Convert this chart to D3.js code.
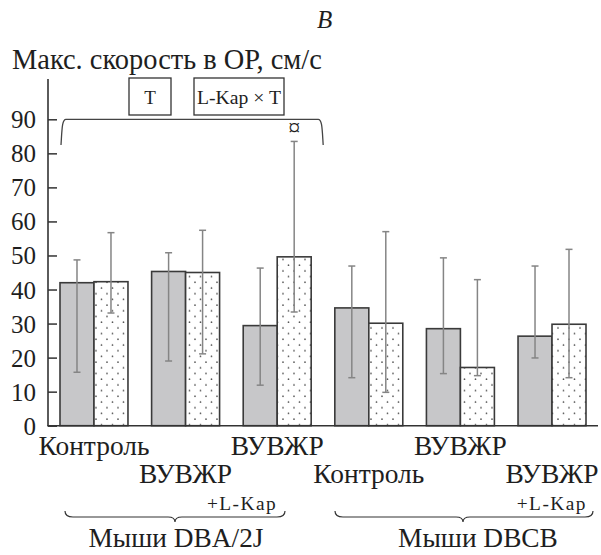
<!DOCTYPE html>
<html>
<head>
<meta charset="utf-8">
<script src="https://cdn.jsdelivr.net/npm/d3@7"></script>
<style>
  html, body { margin: 0; padding: 0; background: #fff; }
  svg { display: block; }
  text { font-family: "Liberation Serif", "Times New Roman", serif; fill: #1e1e1e; }
</style>
</head>
<body>
<svg id="chart" width="601" height="555"></svg>
<script>
// ---- data ----
const groups = ["Контроль", "ВУВЖР", "ВУВЖР", "Контроль", "ВУВЖР", "ВУВЖР"];
const groupSub = ["", "", "+L-Kap", "", "", "+L-Kap"];
const strains = ["Мыши DBA/2J", "Мыши DBCB"];
const series = ["gray", "dotted"];
const grayMean = [42.0, 45.3, 29.4, 34.6, 28.5, 26.3];
const grayLow  = [15.7, 19.0, 11.9, 14.1, 15.3, 19.9];
const grayHigh = [48.7, 50.8, 46.3, 46.9, 49.3, 46.9];
const dotMean  = [42.3, 45.0, 49.6, 30.1, 17.1, 29.8];
const dotLow   = [33.1, 21.1, 33.4,  9.8, 14.7, 14.1];
const dotHigh  = [56.7, 57.4, 83.5, 57.0, 42.9, 51.8];
const yTicks = [0, 10, 20, 30, 40, 50, 60, 70, 80, 90];
const effects = ["T", "L-Kap × T"];
const markSymbol = "¤";
const panelLetter = "B";
const yTitle = "Макс. скорость в ОР, см/с";

// ---- helpers ----
function fitSize(sel, targetW) {
  const fs = +sel.attr("font-size");
  const w = sel.node().getComputedTextLength();
  const nfs = fs * targetW / w;
  sel.attr("font-size", nfs.toFixed(2));
  return nfs;
}

// ---- layout ----
const svg = d3.select("#chart");
const y = d3.scaleLinear().domain([0, 90]).range([425.7, 119.3]);
const x = d3.scaleBand().domain(d3.range(groups.length)).range([48, 598])
  .paddingInner(0.258).paddingOuter(0.131);
const xs = d3.scaleBand().domain(series).range([0, x.bandwidth()]);

const rows = [];
groups.forEach((g, i) => {
  rows.push({g: i, s: "gray", mean: grayMean[i], lo: grayLow[i], hi: grayHigh[i]});
  rows.push({g: i, s: "dotted", mean: dotMean[i], lo: dotLow[i], hi: dotHigh[i]});
});

// dot pattern
const defs = svg.append("defs");
const pat = defs.append("pattern").attr("id", "dots").attr("patternUnits", "userSpaceOnUse")
  .attr("width", 11).attr("height", 11.4).attr("x", 0).attr("y", 0);
pat.append("rect").attr("width", 11).attr("height", 11.4).attr("fill", "#fff");
pat.append("circle").attr("cx", 2.5).attr("cy", 3).attr("r", 0.85).attr("fill", "#555");
pat.append("circle").attr("cx", 8).attr("cy", 8.7).attr("r", 0.85).attr("fill", "#555");

// bars
svg.append("g").selectAll("rect").data(rows).join("rect")
  .attr("x", d => x(d.g) + xs(d.s))
  .attr("y", d => y(d.mean))
  .attr("width", xs.bandwidth())
  .attr("height", d => y(0) - y(d.mean))
  .attr("fill", d => d.s === "gray" ? "#c7c7c9" : "url(#dots)")
  .attr("stroke", "#3a3a3a").attr("stroke-width", 1.6);

// error bars
const eb = svg.append("g").attr("stroke", "#858585").attr("stroke-width", 1.5).attr("fill", "none");
rows.forEach(d => {
  const cx = x(d.g) + xs(d.s) + xs.bandwidth() / 2;
  eb.append("line").attr("x1", cx).attr("x2", cx).attr("y1", y(d.hi)).attr("y2", y(d.lo));
  eb.append("line").attr("x1", cx - 3.5).attr("x2", cx + 3.5).attr("y1", y(d.hi)).attr("y2", y(d.hi));
  eb.append("line").attr("x1", cx - 3.5).attr("x2", cx + 3.5).attr("y1", y(d.lo)).attr("y2", y(d.lo));
});

// y axis
const yAxis = d3.axisLeft(y).tickValues(yTicks).tickSizeInner(-9).tickSizeOuter(0).tickPadding(21);
const ya = svg.append("g").attr("transform", "translate(48,0)").call(yAxis);
ya.attr("font-family", null);
ya.select(".domain").remove();
ya.selectAll(".tick line").attr("stroke", "#333").attr("stroke-width", 1.5);
ya.selectAll(".tick text").attr("font-size", 25).attr("fill", "#1e1e1e").attr("dx", 9).attr("dy", "0.34em");
svg.append("line").attr("x1", 48).attr("x2", 48).attr("y1", 79).attr("y2", y(0))
  .attr("stroke", "#333").attr("stroke-width", 1.6);
svg.append("line").attr("x1", 47.2).attr("x2", 598).attr("y1", y(0)).attr("y2", y(0))
  .attr("stroke", "#333").attr("stroke-width", 1.6);

// titles
svg.append("text").attr("x", 317).attr("y", 28).attr("font-size", 25).attr("font-style", "italic").text(panelLetter);
const yt = svg.append("text").attr("x", 12).attr("y", 69).attr("font-size", 25).text(yTitle);
fitSize(yt, 310);

// significance bracket over DBA/2J
const bx0 = x(0) + 2, bx1 = x(2) + x.bandwidth() + 11, by = y(90), byEnd = 145;
svg.append("path")
  .attr("d", `M${bx0 - 1},${byEnd} C${bx0},${by + 10} ${bx0},${by} ${bx0 + 4},${by} L${bx1 - 4},${by} C${bx1},${by} ${bx1},${by + 10} ${bx1 + 1},${byEnd}`)
  .attr("fill", "none").attr("stroke", "#444").attr("stroke-width", 1.3);

// effect boxes
const boxes = [{x0: 129, x1: 171}, {x0: 194, x1: 284}];
effects.forEach((t, i) => {
  const b = boxes[i];
  svg.append("rect").attr("x", b.x0).attr("y", 78).attr("width", b.x1 - b.x0).attr("height", 37)
    .attr("fill", "#fff").attr("stroke", "#333").attr("stroke-width", 1.3);
  const tt = svg.append("text").attr("x", (b.x0 + b.x1) / 2).attr("y", 104).attr("text-anchor", "middle")
    .attr("font-size", 19).text(t);
  if (i === 1) fitSize(tt, 84);
});

// mark symbol above G3 dotted error bar
svg.append("text").attr("x", x(2) + xs("dotted") + xs.bandwidth() / 2).attr("y", 135)
  .attr("text-anchor", "middle").attr("font-size", 24).attr("fill", "#555").text(markSymbol);

// category labels
const rowY = [455, 483];
const catLabels = [];
groups.forEach((g, i) => {
  const cx = x(i) + x.bandwidth() / 2;
  catLabels.push(svg.append("text").attr("x", cx).attr("y", rowY[i % 2]).attr("text-anchor", "middle")
    .attr("font-size", 24).text(g));
});
const catSize = fitSize(catLabels[0], 111);
catLabels.forEach(t => t.attr("font-size", catSize.toFixed(2)));

const subRight = [0, 0, x(2) + x.bandwidth() / 2, 0, 0, x(5) + x.bandwidth() + 1];
groupSub.forEach((s, i) => {
  if (!s) return;
  const t = svg.append("text").attr("x", subRight[i]).attr("y", 510).attr("text-anchor", "end")
    .attr("font-size", 18).attr("letter-spacing", 1.5).text(s);
  fitSize(t, 71);
});

// braces + strain labels
const braceSpans = [{x0: 65, x1: 285, tip: 175, lx: 176}, {x0: 335, x1: 593, tip: 463, lx: 478}];
const strainLabels = [];
strains.forEach((s, k) => {
  const b = braceSpans[k];
  const ytp = 511, ym = 517, yp = 522;
  svg.append("path")
    .attr("d", `M${b.x0},${ytp} Q${b.x0},${ym} ${b.x0 + 8},${ym} L${b.tip - 7},${ym} Q${b.tip},${ym} ${b.tip},${yp} Q${b.tip},${ym} ${b.tip + 7},${ym} L${b.x1 - 8},${ym} Q${b.x1},${ym} ${b.x1},${ytp}`)
    .attr("fill", "none").attr("stroke", "#333").attr("stroke-width", 1.2);
  strainLabels.push(svg.append("text").attr("x", b.lx).attr("y", 547).attr("text-anchor", "middle")
    .attr("font-size", 25).text(s));
});
const stSize = fitSize(strainLabels[0], 175);
strainLabels.forEach(t => t.attr("font-size", stSize.toFixed(2)));
</script>
</body>
</html>
